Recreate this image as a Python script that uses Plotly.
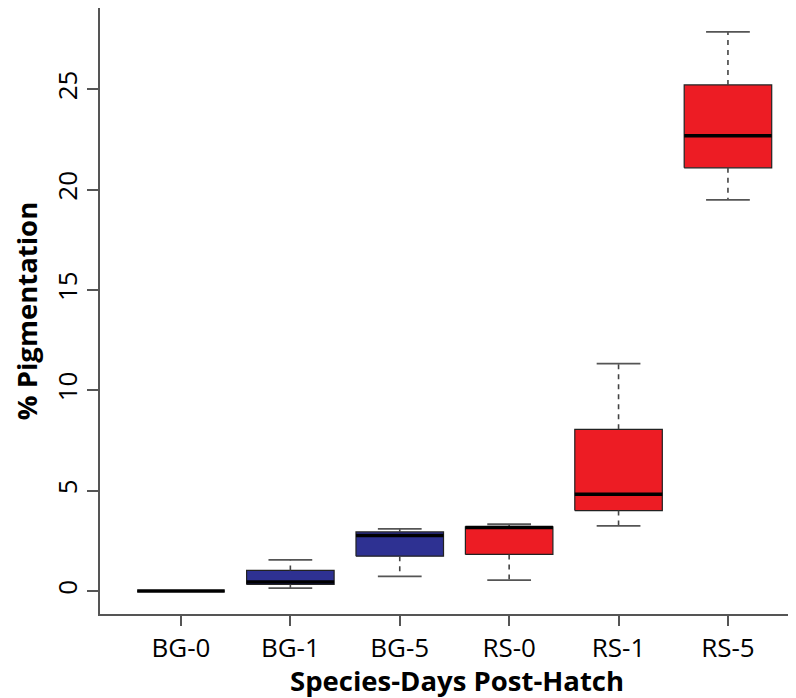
import plotly.graph_objects as go

categories = ["BG-0", "BG-1", "BG-5", "RS-0", "RS-1", "RS-5"]
lower_whisker = [0.0, 0.15, 0.73, 0.55, 3.25, 19.49]
q1 = [0.0, 0.33, 1.74, 1.83, 4.01, 21.09]
median = [0.0, 0.46, 2.77, 3.17, 4.83, 22.69]
q3 = [0.0, 1.03, 2.95, 3.20, 8.06, 25.22]
upper_whisker = [0.0, 1.56, 3.10, 3.33, 11.33, 27.86]
box_colors = ["#2E3192", "#2E3192", "#2E3192", "#ED1C24", "#ED1C24", "#ED1C24"]
y_ticks = [0, 5, 10, 15, 20, 25]
x_title = "Species-Days Post-Hatch"
y_title = "% Pigmentation"

half = 0.4   # half box width
cap = 0.2    # half cap width

fig = go.Figure()
positions = list(range(1, len(categories) + 1))

for i, x in enumerate(positions):
    fig.add_trace(go.Scatter(
        x=[x - half, x + half, x + half, x - half, x - half],
        y=[q1[i], q1[i], q3[i], q3[i], q1[i]],
        mode="lines", fill="toself", fillcolor=box_colors[i],
        line=dict(color="#222222", width=1.2), hoverinfo="skip", showlegend=False))

wx, wy = [], []
for i, x in enumerate(positions):
    wx += [x, x, None, x, x, None]
    wy += [q3[i], upper_whisker[i], None, q1[i], lower_whisker[i], None]
fig.add_trace(go.Scatter(x=wx, y=wy, mode="lines",
                         line=dict(color="#444444", width=1.6, dash="5px,5px"),
                         hoverinfo="skip", showlegend=False))

cx, cy = [], []
for i, x in enumerate(positions):
    cx += [x - cap, x + cap, None, x - cap, x + cap, None]
    cy += [upper_whisker[i], upper_whisker[i], None, lower_whisker[i], lower_whisker[i], None]
fig.add_trace(go.Scatter(x=cx, y=cy, mode="lines",
                         line=dict(color="#555555", width=1.8),
                         hoverinfo="skip", showlegend=False))

mx, my = [], []
for i, x in enumerate(positions):
    mx += [x - half, x + half, None]
    my += [median[i], median[i], None]
fig.add_trace(go.Scatter(x=mx, y=my, mode="lines",
                         line=dict(color="#000000", width=3.5),
                         hoverinfo="skip", showlegend=False))

font_family = "Open Sans"
fig.update_layout(
    width=796, height=698,
    margin=dict(l=92, r=8, t=0, b=92),
    plot_bgcolor="white", paper_bgcolor="white",
    font=dict(family=font_family, color="#000000"),
    xaxis=dict(
        range=[0.26, 6.622], tickvals=positions, ticktext=categories,
        showline=True, linecolor="#555555", linewidth=1.5, mirror=True,
        ticks="outside", ticklen=10, tickcolor="#555555", tickwidth=1.5,
        showgrid=False, zeroline=False, automargin=False,
        tickfont=dict(size=26, family=font_family),
    ),
    yaxis=dict(
        range=[-1.14, 29.05], tickvals=y_ticks, ticktext=[str(v) for v in y_ticks],
        showline=True, linecolor="#555555", linewidth=1.5,
        ticks="outside", ticklen=11, tickcolor="#555555", tickwidth=1.5,
        showgrid=False, zeroline=False, tickangle=-90, automargin=False,
        tickfont=dict(size=26, family=font_family),
        title=dict(text="<b>" + y_title + "</b>", font=dict(size=27.5, family=font_family), standoff=5),
    ),
    annotations=[dict(
        text="<b>" + x_title + "</b>", xref="paper", yref="paper",
        x=0.513, y=0, xanchor="center", yanchor="middle", yshift=-66,
        showarrow=False, font=dict(size=27.5, family=font_family, color="#000000"),
    )],
)

fig.write_html("out.html")
